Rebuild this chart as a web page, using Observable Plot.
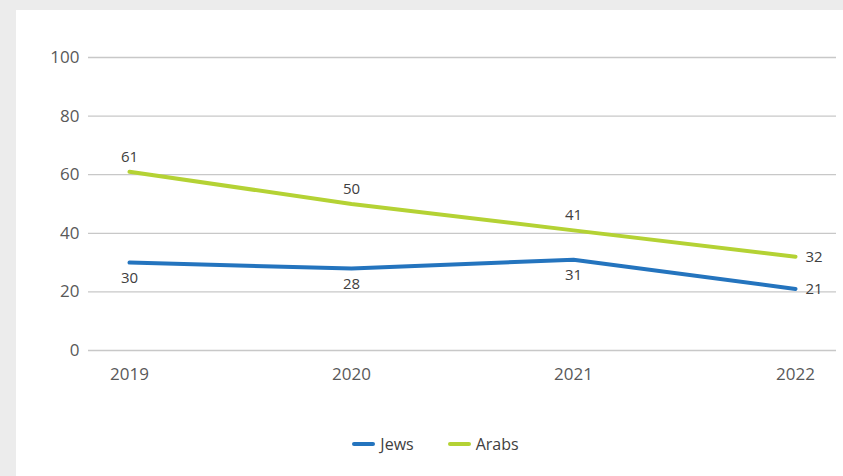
<!DOCTYPE html>
<html>
<head>
<meta charset="utf-8">
<script src="https://cdn.jsdelivr.net/npm/d3@7"></script>
<script src="https://cdn.jsdelivr.net/npm/@observablehq/plot@0.6"></script>
<style>
  html, body { margin: 0; padding: 0; background: #ececec; width: 843px; height: 476px; overflow: hidden; }
  #panel { position: absolute; left: 16px; top: 10px; width: 827px; height: 466px; background: #fff; font-family: "Open Sans", sans-serif; }
  #legend { position: absolute; top: 423px; left: 6px; width: 827px; display: flex; justify-content: center; gap: 34px; font-size: 16px; color: #404040; }
  #legend .item { display: flex; align-items: center; gap: 5px; }
  #legend .sw { width: 23px; height: 4px; border-radius: 2px; display: inline-block; }
</style>
</head>
<body>
<div id="panel"><div id="chart"></div><div id="legend"></div></div>
<script>
const years = ["2019", "2020", "2021", "2022"];
const seriesNames = ["Jews", "Arabs"];
const jews = [30, 28, 31, 21];
const arabs = [61, 50, 41, 32];
const colors = ["#2474be", "#b4d234"];
const yTicks = [0, 20, 40, 60, 80, 100];

const data = [];
years.forEach((y, i) => {
  data.push({year: y, series: "Jews", value: jews[i], idx: i});
  data.push({year: y, series: "Arabs", value: arabs[i], idx: i});
});
const last = years.length - 1;

const plot = Plot.plot({
  width: 827,
  height: 380,
  marginLeft: 72,
  marginRight: 7,
  marginTop: 47,
  marginBottom: 40,
  style: {fontFamily: "Open Sans, sans-serif", background: "transparent"},
  x: {type: "point", domain: years, padding: 0.18, label: null},
  y: {domain: [0, 100], label: null},
  color: {domain: seriesNames, range: colors},
  marks: [
    Plot.ruleY(yTicks, {stroke: "#c8c8c8", strokeWidth: 1.3}),
    Plot.axisY(yTicks, {tickSize: 0, tickPadding: 9, fontSize: 17, fill: "#595959", label: null}),
    Plot.axisX({tickSize: 0, tickPadding: 17, fontSize: 17, fill: "#595959", label: null}),
    Plot.line(data, {x: "year", y: "value", z: "series", stroke: "series", strokeWidth: 4, strokeLinecap: "round", strokeLinejoin: "round"}),
    Plot.text(data.filter(d => d.idx < last && d.series === "Arabs"), {x: "year", y: "value", text: d => String(d.value), dy: -15, fontSize: 15, fill: "#404040"}),
    Plot.text(data.filter(d => d.idx < last && d.series === "Jews"), {x: "year", y: "value", text: d => String(d.value), dy: 16, fontSize: 15, fill: "#404040"}),
    Plot.text(data.filter(d => d.idx === last), {x: "year", y: "value", text: d => String(d.value), dx: 10, textAnchor: "start", fontSize: 15, fill: "#404040"})
  ]
});
document.getElementById("chart").appendChild(plot);

const legend = document.getElementById("legend");
seriesNames.forEach((n, i) => {
  const it = document.createElement("div");
  it.className = "item";
  it.innerHTML = `<span class="sw" style="background:${colors[i]}"></span><span>${n}</span>`;
  legend.appendChild(it);
});
</script>
</body>
</html>
